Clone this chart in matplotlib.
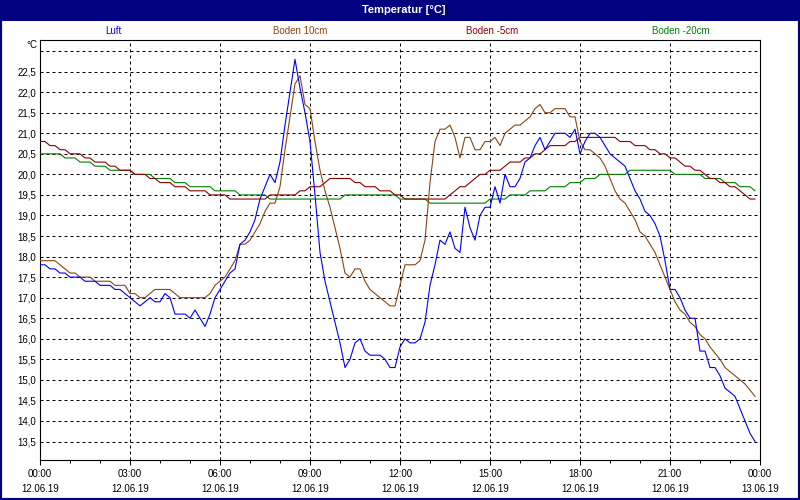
import pandas as pd
import matplotlib
matplotlib.use('Agg')
import matplotlib.pyplot as plt
import matplotlib.dates as mdates
from matplotlib.patches import Rectangle

plt.rcParams['font.family'] = ['Liberation Sans', 'DejaVu Sans']

# 10-minute readings, 12.06.19 00:00 .. 23:50
times = pd.date_range('2019-06-12 00:00', periods=144, freq='10min')

luft = [17.8, 17.8, 17.7, 17.7, 17.6, 17.6, 17.5, 17.5, 17.5, 17.4,
        17.4, 17.4, 17.3, 17.3, 17.3, 17.2, 17.2, 17.1, 17.0, 16.9,
        16.8, 16.9, 17.0, 16.9, 16.9, 17.1, 17.0, 16.6, 16.6, 16.6,
        16.5, 16.7, 16.5, 16.3, 16.6, 17.0, 17.2, 17.4, 17.6, 17.7,
        18.3, 18.4, 18.6, 18.9, 19.4, 19.7, 20.0, 19.8, 20.3, 21.2,
        22.0, 22.8, 22.1, 21.5, 20.8, 19.5, 18.1, 17.4, 16.9, 16.4,
        15.9, 15.3, 15.5, 15.9, 16.0, 15.7, 15.6, 15.6, 15.6, 15.5,
        15.3, 15.3, 15.8, 16.0, 15.9, 15.9, 16.0, 16.4, 17.3, 17.8,
        18.4, 18.3, 18.6, 18.2, 18.1, 19.2, 18.7, 18.4, 19.0, 19.2,
        19.2, 19.7, 19.3, 20.0, 19.7, 19.7, 19.9, 20.3, 20.4, 20.7,
        20.9, 20.6, 20.8, 21.0, 21.0, 21.0, 20.9, 21.1, 20.5, 20.8,
        21.0, 21.0, 20.9, 20.7, 20.5, 20.4, 20.3, 20.2, 19.9, 19.6,
        19.4, 19.1, 19.0, 18.8, 18.5, 17.9, 17.2, 17.2, 17.0, 16.7,
        16.5, 16.5, 15.7, 15.7, 15.3, 15.3, 15.1, 14.8, 14.7, 14.6,
        14.3, 14.0, 13.7, 13.5]

boden_10 = [17.9, 17.9, 17.9, 17.9, 17.8, 17.7, 17.6, 17.6, 17.5, 17.5,
            17.5, 17.4, 17.4, 17.4, 17.4, 17.3, 17.3, 17.3, 17.1, 17.1,
            17.0, 17.0, 17.1, 17.2, 17.2, 17.2, 17.2, 17.1, 17.0, 17.0,
            17.0, 17.0, 17.0, 17.0, 17.1, 17.3, 17.4, 17.5, 17.7, 17.9,
            18.3, 18.3, 18.4, 18.6, 18.8, 19.1, 19.3, 19.3, 19.7, 20.6,
            21.4, 22.2, 22.4, 21.7, 21.6, 20.8, 20.1, 19.6, 19.2, 18.7,
            18.2, 17.6, 17.5, 17.7, 17.7, 17.4, 17.2, 17.1, 17.0, 16.9,
            16.8, 16.8, 17.3, 17.8, 17.8, 17.8, 17.9, 18.4, 19.8, 20.8,
            21.1, 21.1, 21.2, 20.9, 20.4, 20.9, 20.9, 20.6, 20.6, 20.8,
            20.8, 20.9, 20.7, 21.0, 21.1, 21.2, 21.2, 21.3, 21.4, 21.6,
            21.7, 21.5, 21.5, 21.6, 21.6, 21.6, 21.4, 21.4, 20.8, 20.6,
            20.6, 20.5, 20.4, 20.2, 19.9, 19.6, 19.4, 19.3, 19.1, 18.9,
            18.6, 18.5, 18.3, 18.1, 17.8, 17.5, 17.2, 16.9, 16.7, 16.6,
            16.4, 16.3, 16.1, 16.0, 15.8, 15.65, 15.5, 15.3, 15.2, 15.1,
            15.0, 14.9, 14.75, 14.6]

boden_m5 = [20.8, 20.8, 20.7, 20.7, 20.6, 20.6, 20.5, 20.5, 20.5, 20.4,
            20.4, 20.3, 20.3, 20.3, 20.2, 20.2, 20.1, 20.1, 20.1, 20.0,
            20.0, 20.0, 19.9, 19.9, 19.8, 19.8, 19.8, 19.7, 19.7, 19.7,
            19.6, 19.6, 19.6, 19.6, 19.5, 19.5, 19.5, 19.5, 19.4, 19.4,
            19.4, 19.4, 19.4, 19.4, 19.4, 19.4, 19.5, 19.5, 19.5, 19.5,
            19.5, 19.5, 19.6, 19.6, 19.7, 19.7, 19.7, 19.8, 19.9, 19.9,
            19.9, 19.9, 19.9, 19.8, 19.8, 19.7, 19.7, 19.7, 19.6, 19.6,
            19.6, 19.5, 19.5, 19.4, 19.4, 19.4, 19.4, 19.4, 19.4, 19.4,
            19.4, 19.4, 19.5, 19.6, 19.7, 19.7, 19.8, 19.9, 20.0, 20.0,
            20.1, 20.1, 20.1, 20.2, 20.3, 20.3, 20.3, 20.4, 20.4, 20.5,
            20.5, 20.6, 20.7, 20.7, 20.7, 20.7, 20.8, 20.8, 20.9, 20.9,
            20.9, 20.9, 20.9, 20.9, 20.9, 20.9, 20.8, 20.8, 20.8, 20.7,
            20.7, 20.7, 20.6, 20.6, 20.5, 20.5, 20.4, 20.4, 20.3, 20.2,
            20.2, 20.1, 20.1, 20.0, 19.9, 19.9, 19.8, 19.8, 19.7, 19.7,
            19.6, 19.5, 19.4, 19.4]

boden_m20 = [20.5, 20.5, 20.5, 20.5, 20.5, 20.4, 20.4, 20.4, 20.3, 20.3,
             20.3, 20.2, 20.2, 20.2, 20.1, 20.1, 20.1, 20.1, 20.1, 20.0,
             20.0, 20.0, 20.0, 19.9, 19.9, 19.9, 19.9, 19.8, 19.8, 19.8,
             19.7, 19.7, 19.7, 19.7, 19.7, 19.6, 19.6, 19.6, 19.6, 19.6,
             19.5, 19.5, 19.5, 19.5, 19.5, 19.5, 19.4, 19.4, 19.4, 19.4,
             19.4, 19.4, 19.4, 19.4, 19.4, 19.4, 19.4, 19.4, 19.4, 19.4,
             19.4, 19.5, 19.5, 19.5, 19.5, 19.5, 19.5, 19.5, 19.5, 19.5,
             19.5, 19.5, 19.4, 19.4, 19.4, 19.4, 19.4, 19.4, 19.3, 19.3,
             19.3, 19.3, 19.3, 19.3, 19.3, 19.3, 19.3, 19.3, 19.3, 19.3,
             19.4, 19.4, 19.4, 19.4, 19.5, 19.5, 19.5, 19.5, 19.6, 19.6,
             19.6, 19.6, 19.7, 19.7, 19.7, 19.7, 19.8, 19.8, 19.8, 19.9,
             19.9, 19.9, 20.0, 20.0, 20.0, 20.0, 20.0, 20.0, 20.1, 20.1,
             20.1, 20.1, 20.1, 20.1, 20.1, 20.1, 20.1, 20.0, 20.0, 20.0,
             20.0, 20.0, 20.0, 19.9, 19.9, 19.9, 19.9, 19.8, 19.8, 19.8,
             19.7, 19.7, 19.7, 19.6]

names = ['Luft', 'Boden 10cm', 'Boden -5cm', 'Boden -20cm']
colors = ['#0000ff', '#8b4513', '#8b0000', '#008000']
y_ticks = [13.5, 14.0, 14.5, 15.0, 15.5, 16.0, 16.5, 17.0, 17.5, 18.0,
           18.5, 19.0, 19.5, 20.0, 20.5, 21.0, 21.5, 22.0, 22.5, 23.0]

navy = '#000080'
fig = plt.figure(figsize=(8, 5), dpi=100)
fig.patch.set_facecolor('white')
ax = fig.add_axes([40 / 800, 40 / 500, 720 / 800, 420 / 500])

series = [luft, boden_10, boden_m5, boden_m20]
for vals, col in reversed(list(zip(series, colors))):
    ax.plot(times, vals, color=col, lw=0.8, antialiased=True, zorder=3)

ax.set_xlim(pd.Timestamp('2019-06-12 00:00'), pd.Timestamp('2019-06-13 00:00'))
ax.set_ylim(13.05, 23.27)

ax.xaxis.set_major_locator(mdates.HourLocator(byhour=range(0, 24, 3)))
ax.xaxis.set_minor_locator(mdates.HourLocator())
ax.xaxis.set_major_formatter(mdates.DateFormatter('%H:%M\n%d.%m.%y'))
ax.set_yticks(y_ticks)
ax.set_yticklabels([('%.1f' % v).replace('.', ',') if v < 22.9 else '' for v in y_ticks])

ax.tick_params(axis='x', which='major', length=3.5, width=0.72, pad=3,
               labelsize=7, direction='out')
ax.tick_params(axis='x', which='minor', length=2.5, width=0.72, direction='out')
ax.tick_params(axis='y', length=0, pad=3, labelsize=7)
for lab in ax.get_xticklabels():
    lab.set_linespacing(1.6)

ax.grid(True, axis='both', which='major', color='black', lw=0.72,
        linestyle=(0, (3, 3)), zorder=1)
for sp in ax.spines.values():
    sp.set_color('black')
    sp.set_linewidth(0.8)

# title bar and frame
fig.patches.append(Rectangle((0, 1 - 21 / 500), 1, 21 / 500, transform=fig.transFigure,
                             facecolor=navy, edgecolor='none', zorder=0))
fig.patches.append(Rectangle((0, 0), 1, 1, transform=fig.transFigure, fill=False,
                             edgecolor=navy, linewidth=3, zorder=5))
fig.text(0.505, 1 - 10 / 500, 'Temperatur [°C]', color='white', fontsize=8,
         fontweight='bold', ha='center', va='center')

# legend row
legend_x = [113, 300, 492, 681]
for name, col, lx in zip(names, colors, legend_x):
    fig.text(lx / 800, 1 - 31 / 500, name, color=col, fontsize=7,
             ha='center', va='center')

fig.text(37 / 800, 1 - 45 / 500, '°C', fontsize=7, ha='right', va='center')

fig.savefig('out.png', dpi=100)
